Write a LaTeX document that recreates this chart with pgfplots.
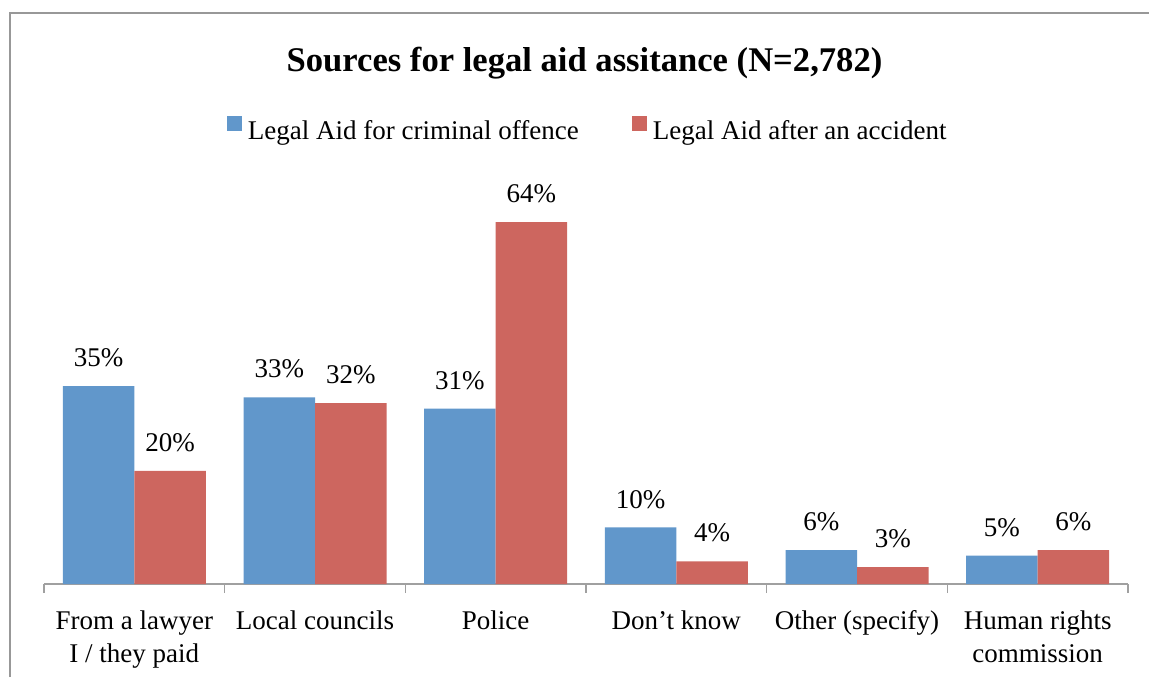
\documentclass[border=0pt]{standalone}
\usepackage{fontspec}
\setmainfont{Liberation Serif}
\usepackage{pgfplots}
\pgfplotsset{compat=1.18}
\definecolor{cblue}{HTML}{6197CB}
\definecolor{cred}{HTML}{CD665F}
\definecolor{axisgray}{HTML}{A0A0A0}
\definecolor{framegray}{HTML}{989898}
\begin{document}
\begin{tikzpicture}[x=1pt,y=1pt]
\path[use as bounding box] (0,0) rectangle (574.5,338.5);
\draw[framegray, line width=1pt] (5,0) -- (5,332) -- (575,332);
\node[font=\bfseries\fontsize{17.3}{20}\selectfont, anchor=base, inner sep=0pt] at (292.25,303) {Sources for legal aid assitance (N=2,782)};
\begin{axis}[
  at={(22pt,46.5pt)}, anchor=south west, scale only axis,
  width=542pt, height=197.96pt,
  xmin=-0.5, xmax=5.5, ymin=0, ymax=70,
  axis x line*=bottom, axis y line=none, ytick=\empty,
  x axis line style={draw=axisgray, line width=0.75pt},
  ybar=0pt, bar width=35.75pt,
  /pgf/number format/assume math mode=true,
  xtick={0,1,2,3,4,5},
  xticklabels={{From a lawyer\\I / they paid},{Local councils},{Police},{Don’t know},{Other (specify)},{Human rights\\commission}},
  major tick length=0pt,
  minor xtick={-0.5,0.5,1.5,2.5,3.5,4.5,5.5},
  minor tick length=4.5pt, tick align=outside,
  every minor tick/.style={draw=axisgray, line width=0.75pt},
  xticklabel style={font=\fontsize{13.5}{16.5}\selectfont, align=center, anchor=north, inner sep=0pt, yshift=-13pt},
  nodes near coords={\pgfmathprintnumber{\pgfplotspointmeta}\%},
  nodes near coords style={font=\fontsize{13.5}{15}\selectfont, anchor=base, inner sep=0pt, yshift=9.7pt, text=black},
  legend columns=2,
  legend image code/.code={\fill[#1] (0pt,0.2pt) rectangle (7.5pt,7.7pt); \path (9.5pt,0pt);},
  legend style={draw=none, fill=none, inner sep=0pt, outer sep=0pt,
    at={(axis description cs:0.1688,1.1475)}, anchor=west,
    font=\fontsize{13.5}{15}\selectfont,
    nodes={inner xsep=1pt, inner ysep=0pt},
    /tikz/every even column/.append style={column sep=25.5pt}},
  legend cell align=left,
  clip=false,
]
\addplot[fill=cblue, draw=none] coordinates {(0,35) (1,33) (2,31) (3,10) (4,6) (5,5)};
\addplot[fill=cred, draw=none] coordinates {(0,20) (1,32) (2,64) (3,4) (4,3) (5,6)};
\legend{Legal Aid for criminal offence, Legal Aid after an accident}
\end{axis}
\end{tikzpicture}
\end{document}
